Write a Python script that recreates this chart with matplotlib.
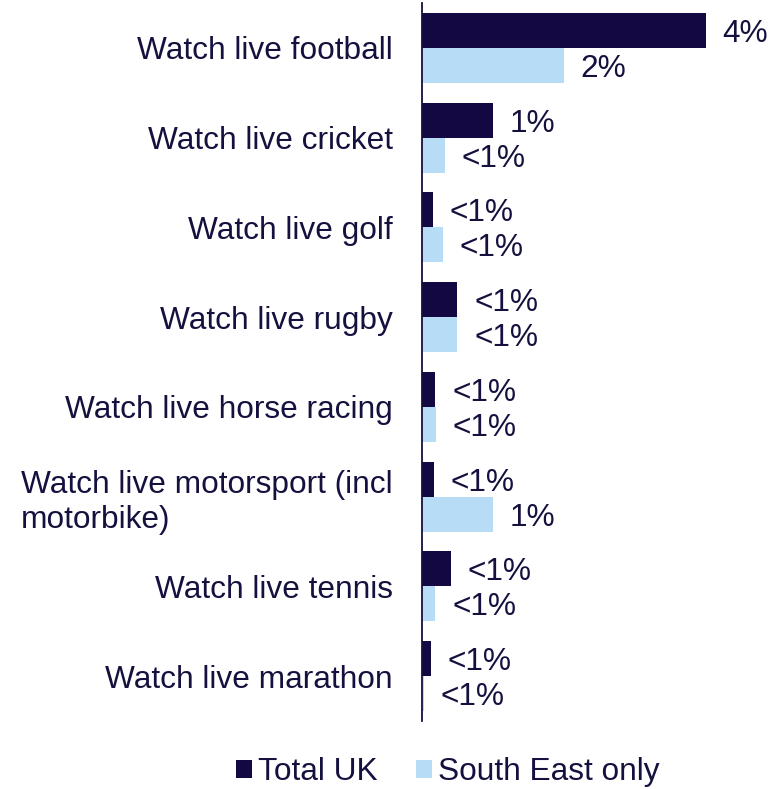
import matplotlib
matplotlib.use("Agg")
import matplotlib.pyplot as plt
from matplotlib.patches import Patch
import numpy as np

plt.rcParams['font.family'] = ['Liberation Sans', 'DejaVu Sans']

categories = [
    "Watch live football",
    "Watch live cricket",
    "Watch live golf",
    "Watch live rugby",
    "Watch live horse racing",
    "Watch live motorsport (incl\nmotorbike)",
    "Watch live tennis",
    "Watch live marathon",
]
total_uk = [4.0, 1.0, 0.15, 0.50, 0.19, 0.17, 0.41, 0.13]
south_east = [2.0, 0.32, 0.30, 0.50, 0.20, 1.0, 0.19, 0.03]
total_uk_labels = ["4%", "1%", "<1%", "<1%", "<1%", "<1%", "<1%", "<1%"]
south_east_labels = ["2%", "<1%", "<1%", "<1%", "<1%", "1%", "<1%", "<1%"]
series_names = ["Total UK", "South East only"]

DARK = "#140842"
LIGHT = "#B6DDF5"
TEXT = "#14113F"
FS = 22.8

fig = plt.figure(figsize=(7.82, 7.89), dpi=100)
ax = fig.add_axes([422 / 782, 1 - 721 / 789, 350 / 782, 718 / 789])

y = np.arange(len(categories))
h = 0.39
ax.barh(y - h / 2, total_uk, height=h, color=DARK)
ax.barh(y + h / 2, south_east, height=h, color=LIGHT)

for yi, v, lab in zip(y - h / 2, total_uk, total_uk_labels):
    ax.annotate(lab, (v, yi), xytext=(12, -2.5), textcoords="offset points",
                ha="left", va="center", fontsize=FS, color=TEXT)
for yi, v, lab in zip(y + h / 2, south_east, south_east_labels):
    ax.annotate(lab, (v, yi), xytext=(12, -2.5), textcoords="offset points",
                ha="left", va="center", fontsize=FS, color=TEXT)

ax.set_xlim(0, 350 / 71)
ax.set_ylim(len(categories) - 0.5, -0.5)
ax.set_yticks(y)
ax.set_yticklabels(categories, fontsize=FS, color=TEXT, multialignment="left")
ax.tick_params(axis="y", length=0, pad=21)
ax.set_xticks([])
for s in ["top", "right", "bottom"]:
    ax.spines[s].set_visible(False)
ax.spines["left"].set_color(TEXT)
ax.spines["left"].set_linewidth(1.3)

handles = [Patch(facecolor=DARK), Patch(facecolor=LIGHT)]
fig.legend(handles, series_names, loc="center", bbox_to_anchor=(448 / 782, 1 - 772 / 789),
           ncol=2, frameon=False, fontsize=FS, handlelength=0.5, handleheight=0.5,
           handletextpad=0.2, columnspacing=1.2, labelcolor=TEXT)

fig.savefig("out.png", dpi=100)
